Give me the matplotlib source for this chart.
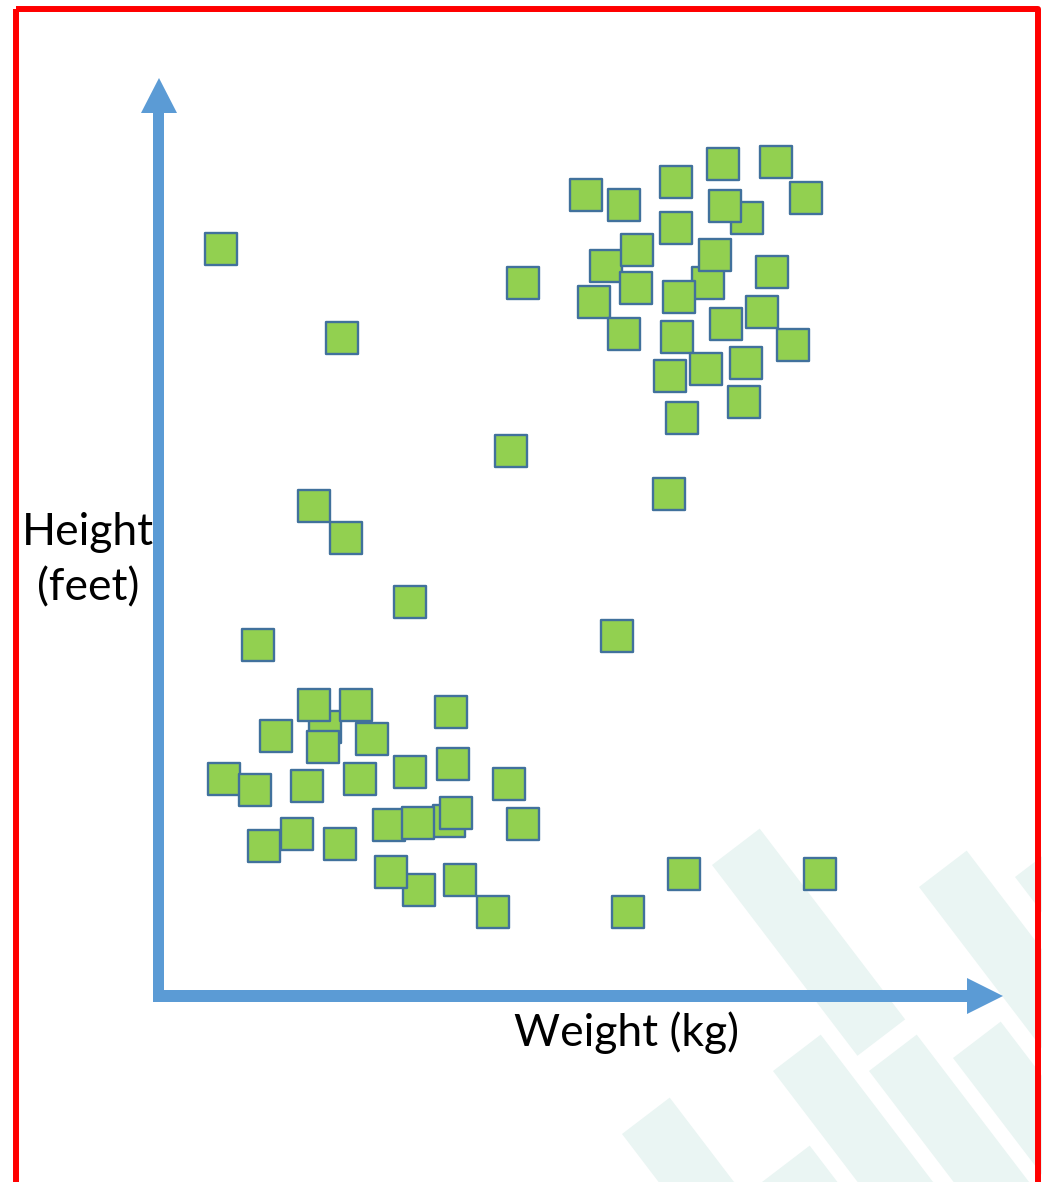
import matplotlib
matplotlib.use("Agg")
import matplotlib.pyplot as plt
from matplotlib.patches import Polygon, Rectangle

# ---------------- data (weight, height) in chart units ----------------
weight = [63, 184, 365, 353, 156, 188, 252, 511, 100, 459, 526, 470, 662,
          428, 466, 518, 565, 618, 648, 589, 567, 518, 448, 479, 550, 557,
          614, 478, 436, 521, 604, 568, 466, 519, 635, 588, 548, 512, 586, 524,
          167, 156, 198, 165, 118, 214, 293, 66, 97, 149, 202, 252, 295, 351,
          231, 291, 260, 298, 365, 106, 139, 182, 261, 233, 302, 335]
height = [746, 657, 712, 544, 489, 457, 393, 501, 350, 359, 121, 83, 121,
          800, 790, 813, 831, 833, 797, 777, 789, 767, 729, 745, 712, 740,
          723, 707, 693, 698, 683, 671, 661, 658, 650, 632, 626, 619, 593, 577,
          268, 290, 290, 248, 259, 256, 283, 216, 205, 209, 216, 223, 231, 211,
          170, 174, 172, 182, 171, 149, 161, 151, 105, 123, 115, 83]
x_label = "Weight (kg)"
y_label = ["Height", "(feet)"]

W, H = 1042, 1182
fig = plt.figure(figsize=(W / 100, H / 100), dpi=100)
fig.patch.set_facecolor("white")

# background / decoration layer in pixel coordinates
bg = fig.add_axes([0, 0, 1, 1])
bg.set_xlim(0, W)
bg.set_ylim(H, 0)
bg.axis("off")

# watermark bands
ux, uy = 0.606, 0.795
wx, wy = 47.7, -36.4
bands = [((712, 865), 240), ((919, 887), 600), ((1015, 877), 600),
         ((773, 1071), 600), ((869, 1071), 600), ((953, 1058), 600),
         ((622, 1134), 600), ((762, 1182), 600)]
for (px, py), L in bands:
    pts = [(px, py), (px + wx, py + wy), (px + wx + L * ux, py + wy + L * uy),
           (px + L * ux, py + L * uy)]
    bg.add_patch(Polygon(pts, closed=True, facecolor="#EAF5F3", edgecolor="none", zorder=1))

# red frame
bg.add_patch(Rectangle((15.5, 9), 1037.5 - 15.5, 1300, fill=False, edgecolor="#FF0000",
                       linewidth=4.3, joinstyle="round", zorder=5))

# axis arrows
ac = "#5B9BD5"
bg.add_patch(Rectangle((153, 112), 11, 889, facecolor=ac, edgecolor="none", zorder=3))
bg.add_patch(Polygon([(141, 113), (177, 113), (159, 78)], closed=True, facecolor=ac,
                     edgecolor="none", zorder=3))
bg.add_patch(Rectangle((153, 990), 815, 12, facecolor=ac, edgecolor="none", zorder=3))
bg.add_patch(Polygon([(967, 978), (967, 1014), (1003, 996)], closed=True, facecolor=ac,
                     edgecolor="none", zorder=3))

# labels
font = "Lato"
bg.text(88, 545, y_label[0], fontsize=32, family=font, ha="center", va="baseline", zorder=4)
bg.text(88, 600, y_label[1], fontsize=32, family=font, ha="center", va="baseline", zorder=4)
bg.text(627, 1046, x_label, fontsize=32, family=font, ha="center", va="baseline", zorder=4)

# data axes: origin at the arrow corner
x0, y0, x1, y1 = 158, 995, 1003, 78
ax = fig.add_axes([x0 / W, (H - y0) / H, (x1 - x0) / W, (y0 - y1) / H])
ax.set_xlim(0, x1 - x0)
ax.set_ylim(0, y0 - y1)
ax.patch.set_alpha(0)
ax.axis("off")
ax.scatter(weight, height, s=500, marker="s", facecolor="#92D050",
           edgecolor="#41719C", linewidth=1.7, clip_on=False, zorder=6)

fig.savefig("out.png", dpi=100, facecolor="white")
